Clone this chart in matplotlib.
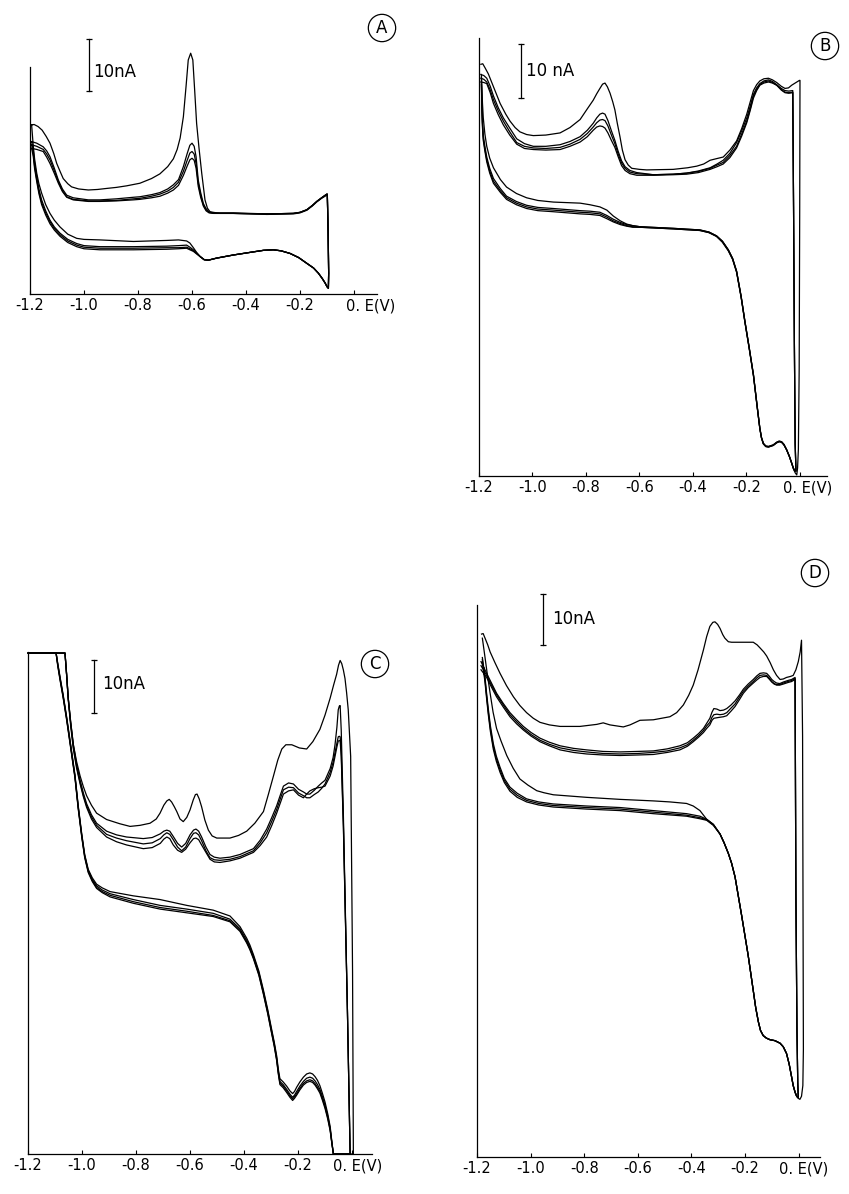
import matplotlib
matplotlib.use('Agg')
import matplotlib.pyplot as plt

W, H = 849, 1194

# E in V, I in nA (zero of I is arbitrary: bottom axis line)
# cycle 1 given as (E, I) pairs, later cycles share one E grid per branch

# ---------------- panel A ----------------
A_up1 = [(-1.194, 32.5), (-1.185, 32.6), (-1.170, 32.2), (-1.155, 31.5), (-1.140, 30.3),
         (-1.126, 29.0), (-1.112, 27.0), (-1.101, 25.1), (-1.088, 23.5), (-1.077, 22.2),
         (-1.060, 21.2), (-1.046, 20.6), (-1.020, 20.2), (-0.984, 20.0), (-0.950, 20.1),
         (-0.916, 20.3), (-0.880, 20.5), (-0.842, 20.8), (-0.793, 21.3), (-0.750, 22.2),
         (-0.719, 23.1), (-0.690, 24.5), (-0.669, 26.0), (-0.655, 27.8), (-0.644, 30.0),
         (-0.632, 34.1), (-0.622, 40.0), (-0.614, 45.0), (-0.605, 46.3), (-0.597, 45.0),
         (-0.590, 39.0), (-0.583, 32.8), (-0.574, 28.0), (-0.564, 23.2), (-0.552, 18.1),
         (-0.543, 16.5), (-0.533, 15.8), (-0.496, 15.5), (-0.447, 15.5), (-0.323, 15.4),
         (-0.225, 15.5), (-0.200, 15.7), (-0.175, 16.2), (-0.155, 17.0), (-0.138, 17.8),
         (-0.120, 18.5), (-0.101, 19.2)]
A_up_E = [-1.194, -1.175, -1.151, -1.138, -1.126, -1.110, -1.095, -1.080, -1.064, -1.040,
          -0.984, -0.941, -0.880, -0.817, -0.793, -0.750, -0.719, -0.690, -0.669, -0.650,
          -0.632, -0.618, -0.608, -0.600, -0.592, -0.585, -0.577, -0.568, -0.558, -0.548,
          -0.537, -0.520, -0.447, -0.323, -0.225, -0.200, -0.175, -0.155, -0.138, -0.120,
          -0.101]
A_up2_I = [29.3, 29.0, 28.3, 27.5, 26.4, 24.2, 21.9, 20.2, 19.0, 18.5,
           18.1, 18.1, 18.3, 18.6, 18.7, 19.1, 19.5, 20.2, 21.0, 22.0,
           24.5, 27.0, 28.6, 29.0, 28.4, 26.4, 21.9, 19.5, 17.4, 16.4,
           15.8, 15.6, 15.6, 15.4, 15.5, 15.7, 16.2, 17.0, 17.8, 18.5,
           19.2]
A_up3_I = [28.7, 28.4, 27.8, 26.9, 25.8, 23.7, 21.6, 19.9, 18.7, 18.2,
           17.9, 17.9, 18.0, 18.3, 18.4, 18.8, 19.2, 19.8, 20.5, 21.5,
           23.6, 25.7, 27.1, 27.4, 26.9, 25.1, 21.3, 19.0, 17.1, 16.2,
           15.7, 15.5, 15.5, 15.4, 15.5, 15.7, 16.2, 17.0, 17.8, 18.5,
           19.2]
A_up4_I = [28.0, 27.8, 27.4, 26.3, 25.1, 23.2, 21.3, 19.7, 18.6, 18.1,
           17.8, 17.8, 17.9, 18.1, 18.2, 18.5, 18.8, 19.4, 20.0, 20.9,
           22.8, 24.6, 25.8, 26.1, 25.7, 24.2, 20.7, 18.6, 16.9, 16.0,
           15.6, 15.5, 15.5, 15.3, 15.4, 15.6, 16.1, 16.9, 17.7, 18.4,
           19.0]
A_dn_E = [-0.099, -0.096, -0.094, -0.095, -0.100, -0.107, -0.118, -0.132, -0.150, -0.175,
          -0.205, -0.237, -0.270, -0.299, -0.335, -0.373, -0.447, -0.509, -0.540, -0.555,
          -0.570, -0.583, -0.595, -0.608, -0.620, -0.650, -0.694, -0.817, -0.941, -1.000,
          -1.027, -1.060, -1.089, -1.110, -1.126, -1.142, -1.157, -1.167, -1.175, -1.183,
          -1.188, -1.194]
A_dn1_I = [19.2, 12.0, 4.0, 1.1, 1.4, 2.1, 3.0, 4.0, 5.0, 5.9,
           7.0, 7.8, 8.3, 8.5, 8.4, 8.1, 7.5, 6.9, 6.5, 6.6,
           7.2, 8.0, 8.9, 9.8, 10.2, 10.4, 10.3, 10.1, 10.4, 10.5,
           10.7, 11.5, 12.9, 14.2, 15.5, 17.2, 19.4, 21.2, 23.2, 26.0,
           28.5, 32.5]
A_dn2_I = [19.2, 12.0, 4.0, 1.1, 1.4, 2.1, 3.0, 4.0, 5.0, 5.9,
           7.0, 7.8, 8.3, 8.5, 8.4, 8.1, 7.5, 6.9, 6.5, 6.6,
           7.2, 7.9, 8.5, 9.0, 9.4, 9.3, 9.2, 9.1, 9.1, 9.3,
           9.7, 10.5, 11.7, 12.9, 14.2, 16.0, 18.1, 20.2, 22.6, 25.2,
           27.7, 29.3]
A_dn3_I = [19.2, 12.0, 4.0, 1.1, 1.4, 2.1, 3.0, 4.0, 5.0, 5.9,
           7.0, 7.8, 8.3, 8.5, 8.4, 8.1, 7.5, 6.9, 6.5, 6.6,
           7.2, 7.8, 8.3, 8.7, 9.0, 8.9, 8.9, 8.8, 8.8, 9.0,
           9.4, 10.2, 11.4, 12.6, 13.9, 15.6, 17.6, 19.7, 22.0, 24.6,
           27.0, 28.7]
A_dn4_I = [19.0, 12.0, 4.0, 1.1, 1.4, 2.1, 3.0, 4.0, 5.0, 5.9,
           7.0, 7.8, 8.3, 8.5, 8.4, 8.1, 7.5, 6.9, 6.5, 6.6,
           7.2, 7.7, 8.2, 8.5, 8.8, 8.7, 8.6, 8.5, 8.5, 8.7,
           9.1, 9.9, 11.1, 12.3, 13.5, 15.2, 17.2, 19.3, 21.6, 24.1,
           26.5, 28.0]

# ---------------- panel B ----------------
B_up1 = [(-1.193, 76.8), (-1.186, 76.9), (-1.178, 76.2), (-1.165, 75.0), (-1.153, 73.5),
         (-1.137, 71.5), (-1.121, 69.5), (-1.100, 67.5), (-1.084, 66.2), (-1.065, 65.0),
         (-1.047, 64.2), (-1.022, 63.7), (-0.997, 63.5), (-0.950, 63.6), (-0.897, 64.0),
         (-0.860, 65.0), (-0.822, 66.5), (-0.795, 68.5), (-0.773, 70.1), (-0.760, 71.3),
         (-0.748, 72.3), (-0.738, 73.1), (-0.729, 73.3), (-0.720, 72.6), (-0.710, 71.4),
         (-0.700, 69.8), (-0.692, 68.3), (-0.683, 65.8), (-0.673, 63.3), (-0.664, 60.8),
         (-0.654, 59.0), (-0.642, 58.0), (-0.629, 57.4), (-0.600, 57.2), (-0.573, 57.1),
         (-0.474, 57.2), (-0.420, 57.5), (-0.386, 57.8), (-0.360, 58.2), (-0.336, 58.9),
         (-0.312, 59.2), (-0.287, 59.5), (-0.262, 60.8), (-0.237, 62.5), (-0.218, 64.8),
         (-0.199, 67.5), (-0.186, 69.8), (-0.174, 71.9), (-0.162, 73.0), (-0.150, 73.7),
         (-0.135, 74.1), (-0.118, 74.2), (-0.103, 73.9), (-0.087, 73.4), (-0.070, 72.7),
         (-0.056, 72.3), (-0.043, 72.4), (-0.031, 72.9), (-0.015, 73.4), (-0.002, 73.8)]
B_dn1 = [(0.000, 73.8), (-0.001, 50.0), (-0.003, 20.0), (-0.006, 5.0), (-0.009, 1.5),
         (-0.012, 0.2), (-0.018, 0.6), (-0.025, 1.4), (-0.031, 2.4), (-0.040, 3.7),
         (-0.050, 4.9), (-0.060, 5.9), (-0.069, 6.4), (-0.078, 6.5), (-0.087, 6.3),
         (-0.100, 5.8), (-0.118, 5.5), (-0.128, 5.6), (-0.137, 6.1), (-0.144, 7.2),
         (-0.150, 8.9), (-0.160, 13.0), (-0.174, 18.9), (-0.190, 24.0), (-0.206, 28.9),
         (-0.220, 33.5), (-0.237, 38.2), (-0.252, 40.6), (-0.268, 42.2), (-0.290, 43.8),
         (-0.312, 44.8), (-0.340, 45.5), (-0.374, 45.9), (-0.474, 46.2), (-0.598, 46.5),
         (-0.625, 46.7), (-0.648, 47.0), (-0.672, 47.6), (-0.698, 48.5), (-0.722, 49.6),
         (-0.748, 50.2), (-0.785, 50.6), (-0.822, 50.9), (-0.922, 51.1), (-0.980, 51.4),
         (-1.022, 51.9), (-1.060, 52.7), (-1.097, 53.9), (-1.120, 55.3), (-1.146, 57.5),
         (-1.160, 59.3), (-1.171, 61.5), (-1.178, 63.8), (-1.184, 66.8), (-1.187, 69.5),
         (-1.189, 72.2), (-1.191, 74.9)]
B_up_E = [-1.193, -1.182, -1.171, -1.158, -1.146, -1.128, -1.109, -1.085, -1.059, -1.030,
          -0.997, -0.950, -0.897, -0.860, -0.822, -0.795, -0.773, -0.760, -0.748, -0.738,
          -0.729, -0.718, -0.705, -0.692, -0.680, -0.667, -0.654, -0.636, -0.610, -0.548,
          -0.474, -0.424, -0.380, -0.336, -0.310, -0.287, -0.262, -0.237, -0.218, -0.199,
          -0.186, -0.174, -0.162, -0.150, -0.135, -0.118, -0.103, -0.087, -0.070, -0.056,
          -0.042, -0.027]
B_up2_I = [74.9, 74.7, 74.2, 72.7, 70.9, 68.7, 66.8, 64.9, 62.9, 62.0,
           61.5, 61.5, 61.8, 62.4, 63.3, 64.5, 65.8, 66.8, 67.5, 67.7,
           67.5, 66.3, 64.4, 62.6, 60.6, 58.8, 57.7, 57.0, 56.6, 56.2,
           56.3, 56.5, 56.9, 57.5, 58.2, 58.9, 60.2, 62.2, 64.4, 66.8,
           69.0, 71.2, 72.4, 73.2, 73.7, 73.9, 73.6, 73.0, 72.3, 71.9,
           71.8, 71.9]
B_up3_I = [74.2, 74.0, 73.5, 72.0, 70.2, 68.1, 66.2, 64.2, 62.2, 61.5,
           61.2, 61.1, 61.3, 61.9, 62.8, 63.9, 65.1, 65.9, 66.4, 66.5,
           66.3, 65.3, 63.6, 62.0, 60.1, 58.4, 57.4, 56.7, 56.4, 56.2,
           56.3, 56.5, 56.8, 57.4, 58.0, 58.5, 59.8, 61.5, 63.8, 66.2,
           68.5, 70.9, 72.1, 73.0, 73.5, 73.7, 73.4, 72.9, 72.1, 71.6,
           71.5, 71.6]
B_up4_I = [73.5, 73.4, 73.2, 71.5, 69.5, 67.4, 65.5, 63.6, 61.9, 61.1,
           60.9, 60.8, 60.9, 61.5, 62.3, 63.3, 64.5, 65.1, 65.3, 65.2,
           64.9, 64.0, 62.6, 61.3, 59.6, 57.9, 57.0, 56.4, 56.1, 56.1,
           56.2, 56.3, 56.6, 57.2, 57.7, 58.2, 59.4, 61.2, 63.4, 65.9,
           68.2, 70.5, 71.9, 72.9, 73.3, 73.5, 73.3, 72.9, 72.0, 71.5,
           71.4, 71.5]
B_dn_E = [-0.027, -0.024, -0.021, -0.018, -0.015, -0.020, -0.025, -0.031, -0.040, -0.050,
          -0.060, -0.069, -0.078, -0.087, -0.100, -0.118, -0.128, -0.137, -0.144, -0.150,
          -0.160, -0.174, -0.190, -0.206, -0.220, -0.237, -0.252, -0.268, -0.290, -0.312,
          -0.340, -0.374, -0.474, -0.598, -0.625, -0.648, -0.672, -0.698, -0.722, -0.748,
          -0.785, -0.822, -0.922, -0.980, -1.022, -1.060, -1.097, -1.120, -1.146, -1.160,
          -1.171, -1.178, -1.184, -1.187, -1.189, -1.191]
B_dn2_I = [71.9, 50.0, 25.0, 6.0, 0.9, 1.0, 1.5, 2.4, 3.7, 4.9,
           5.9, 6.4, 6.5, 6.3, 5.8, 5.5, 5.6, 6.1, 7.2, 8.9,
           13.0, 18.9, 24.0, 28.9, 33.5, 38.2, 40.6, 42.2, 43.8, 44.8,
           45.5, 45.9, 46.2, 46.5, 46.7, 46.9, 47.3, 47.9, 48.6, 49.2,
           49.4, 49.5, 49.9, 50.1, 50.5, 51.2, 52.2, 53.6, 55.5, 57.4,
           59.5, 61.5, 63.5, 66.0, 68.9, 74.2]
B_dn3_I = [71.6, 50.0, 25.0, 6.0, 0.9, 1.0, 1.5, 2.4, 3.7, 4.9,
           5.8, 6.3, 6.4, 6.2, 5.7, 5.4, 5.5, 6.0, 7.1, 8.8,
           12.9, 18.8, 23.9, 28.8, 33.4, 38.1, 40.5, 42.1, 43.7, 44.7,
           45.4, 45.8, 46.1, 46.4, 46.5, 46.7, 47.1, 47.6, 48.3, 48.9,
           49.1, 49.2, 49.6, 49.8, 50.2, 50.9, 51.9, 53.2, 55.0, 56.9,
           59.0, 61.0, 63.0, 65.5, 68.5, 73.5]
B_dn4_I = [71.5, 50.0, 25.0, 6.0, 0.9, 1.0, 1.5, 2.4, 3.7, 4.9,
           5.8, 6.3, 6.4, 6.2, 5.7, 5.4, 5.5, 6.0, 7.1, 8.8,
           12.8, 18.7, 23.8, 28.7, 33.3, 38.0, 40.4, 42.0, 43.6, 44.7,
           45.4, 45.8, 46.1, 46.4, 46.4, 46.6, 46.9, 47.4, 48.0, 48.6,
           48.8, 48.9, 49.3, 49.5, 49.9, 50.6, 51.6, 52.9, 54.6, 56.5,
           58.6, 60.6, 62.6, 65.0, 68.0, 73.0]

# ---------------- panel C (pen runs off scale at top and bottom) ----------------
C_up1 = [(-1.199, 94.5), (-1.063, 94.5), (-1.057, 90.5), (-1.051, 86.0), (-1.042, 81.5),
         (-1.032, 77.2), (-1.020, 74.0), (-1.007, 71.3), (-0.995, 69.3), (-0.983, 67.6),
         (-0.965, 65.8), (-0.946, 64.3), (-0.909, 63.1), (-0.860, 62.3), (-0.822, 61.8),
         (-0.785, 62.0), (-0.748, 62.4), (-0.725, 63.2), (-0.711, 64.3), (-0.697, 65.8),
         (-0.686, 66.6), (-0.677, 66.9), (-0.668, 66.4), (-0.658, 65.5), (-0.649, 64.6),
         (-0.637, 63.2), (-0.625, 62.7), (-0.612, 63.5), (-0.600, 64.9), (-0.588, 66.8),
         (-0.580, 67.8), (-0.574, 67.9), (-0.566, 67.0), (-0.557, 65.5), (-0.545, 63.0),
         (-0.532, 61.1), (-0.518, 60.0), (-0.501, 59.6), (-0.452, 59.6), (-0.420, 60.1),
         (-0.390, 60.9), (-0.360, 62.4), (-0.328, 64.6), (-0.310, 67.8), (-0.291, 71.3),
         (-0.275, 74.3), (-0.260, 76.4), (-0.245, 77.2), (-0.223, 77.2), (-0.195, 76.6),
         (-0.168, 76.4), (-0.145, 77.8), (-0.119, 80.1), (-0.100, 82.8), (-0.081, 86.0),
         (-0.068, 88.5), (-0.057, 90.5), (-0.050, 92.2), (-0.044, 93.1), (-0.038, 92.5),
         (-0.032, 91.3), (-0.026, 89.7), (-0.020, 87.0), (-0.014, 83.8), (-0.005, 75.0),
         (0.002, 34.3), (0.005, 0.0)]
C_up_E = [-1.199, -1.063, -1.057, -1.051, -1.042, -1.032, -1.020, -1.007, -0.995, -0.983,
          -0.965, -0.946, -0.909, -0.872, -0.835, -0.773, -0.740, -0.710, -0.697, -0.686,
          -0.675, -0.662, -0.646, -0.631, -0.616, -0.600, -0.587, -0.578, -0.568, -0.557,
          -0.541, -0.526, -0.510, -0.489, -0.452, -0.415, -0.365, -0.340, -0.316, -0.297,
          -0.279, -0.265, -0.254, -0.235, -0.217, -0.198, -0.180, -0.168, -0.156, -0.140,
          -0.125, -0.112, -0.100, -0.081, -0.070, -0.063, -0.056, -0.051, -0.047, -0.044,
          -0.040, -0.032, -0.017, -0.007]
C_up2_I = [94.5, 94.5, 90.5, 86.0, 81.5, 77.2, 73.5, 70.5, 68.1, 66.1,
           64.0, 62.4, 60.9, 60.2, 59.8, 59.5, 59.7, 60.4, 60.9, 61.1,
           60.9, 59.9, 58.6, 57.9, 58.6, 60.2, 61.1, 61.3, 60.9, 59.8,
           57.9, 56.5, 56.0, 55.8, 56.0, 56.5, 57.6, 59.2, 61.3, 63.5,
           65.7, 67.8, 69.4, 70.0, 69.8, 68.8, 68.3, 67.9, 67.9, 68.6,
           69.4, 70.0, 70.5, 72.7, 74.8, 77.2, 80.5, 83.8, 84.5, 84.6,
           80.0, 63.9, 27.0, 0.0]
C_up3_I = [94.5, 94.5, 90.5, 86.0, 81.2, 76.8, 73.1, 70.1, 67.7, 65.7,
           63.6, 62.0, 60.3, 59.6, 59.1, 58.5, 58.7, 59.5, 60.2, 60.6,
           60.3, 59.3, 57.9, 57.2, 57.9, 59.5, 60.5, 60.6, 60.2, 59.1,
           57.2, 55.9, 55.5, 55.4, 55.6, 56.1, 57.2, 58.7, 60.6, 62.8,
           65.0, 67.1, 68.7, 69.2, 69.1, 68.1, 67.6, 67.2, 67.2, 67.8,
           68.3, 69.0, 69.8, 72.0, 73.9, 75.7, 77.5, 78.7, 78.8, 78.7,
           76.0, 62.4, 27.0, 0.0]
C_up4_I = [94.5, 94.5, 90.3, 85.7, 80.8, 76.4, 72.8, 69.8, 67.4, 65.4,
           63.2, 61.6, 59.8, 58.9, 58.3, 57.6, 57.8, 58.6, 59.4, 59.8,
           59.5, 58.3, 57.3, 56.9, 57.5, 58.7, 59.5, 59.6, 59.3, 58.3,
           56.9, 55.6, 55.1, 55.0, 55.3, 55.8, 56.9, 58.2, 59.8, 62.0,
           64.3, 66.3, 67.9, 68.5, 68.7, 67.7, 67.2, 67.9, 68.5, 68.9,
           69.1, 69.2, 69.4, 71.3, 73.2, 75.0, 76.8, 77.9, 78.0, 77.9,
           75.0, 61.7, 27.0, 0.0]
C_dn_E = [-0.007, -0.069, -0.075, -0.081, -0.090, -0.100, -0.110, -0.119, -0.128, -0.137,
          -0.146, -0.156, -0.168, -0.180, -0.193, -0.205, -0.213, -0.220, -0.230, -0.242,
          -0.255, -0.267, -0.273, -0.279, -0.288, -0.298, -0.312, -0.328, -0.345, -0.365,
          -0.378, -0.390, -0.415, -0.452, -0.514, -0.612, -0.711, -0.810, -0.896, -0.925,
          -0.946, -0.962, -0.977, -0.990, -1.001, -1.014, -1.026, -1.042, -1.057, -1.070,
          -1.081, -1.090, -1.096, -1.199]
C_dn1_I = [0.0, 0.0, 2.5, 5.2, 7.6, 9.8, 11.5, 12.9, 13.9, 14.6,
           15.1, 15.3, 15.1, 14.5, 13.6, 12.6, 11.8, 11.4, 11.9, 12.8,
           13.6, 14.2, 16.0, 18.5, 21.1, 23.6, 27.2, 30.9, 34.5, 37.6,
           39.4, 40.7, 42.9, 44.9, 46.0, 46.9, 48.0, 48.7, 49.5, 50.2,
           50.9, 52.1, 53.7, 56.5, 60.4, 65.7, 71.5, 77.2, 82.5, 86.7,
           89.9, 92.6, 94.5, 94.5]
C_dn2_I = [0.0, 0.0, 2.3, 4.8, 7.2, 9.2, 10.9, 12.2, 13.1, 13.8,
           14.3, 14.5, 14.3, 13.7, 12.8, 11.8, 11.1, 10.7, 11.3, 12.2,
           13.1, 13.7, 15.6, 18.1, 20.8, 23.3, 26.9, 30.6, 34.2, 37.3,
           39.0, 40.3, 42.5, 44.3, 45.4, 46.2, 46.9, 48.0, 49.1, 49.8,
           50.6, 51.8, 53.5, 56.3, 60.2, 65.5, 71.3, 77.0, 82.3, 86.5,
           89.7, 92.5, 94.5, 94.5]
C_dn3_I = [0.0, 0.0, 2.2, 4.6, 6.9, 8.9, 10.5, 11.8, 12.6, 13.3,
           13.8, 14.0, 13.8, 13.3, 12.4, 11.4, 10.8, 10.4, 11.0, 11.9,
           12.8, 13.4, 15.3, 17.8, 20.5, 23.0, 26.6, 30.3, 33.9, 37.0,
           38.7, 40.0, 42.2, 44.0, 45.0, 45.8, 46.5, 47.6, 48.8, 49.5,
           50.3, 51.6, 53.3, 56.1, 60.0, 65.3, 71.1, 76.8, 82.1, 86.3,
           89.5, 92.3, 94.5, 94.5]
C_dn4_I = [0.0, 0.0, 2.1, 4.4, 6.6, 8.6, 10.2, 11.5, 12.3, 13.0,
           13.5, 13.7, 13.5, 13.0, 12.1, 11.1, 10.5, 10.1, 10.7, 11.6,
           12.5, 13.1, 15.1, 17.6, 20.3, 22.8, 26.4, 30.1, 33.7, 36.8,
           38.5, 39.8, 42.0, 43.8, 44.8, 45.5, 46.2, 47.3, 48.5, 49.3,
           50.1, 51.4, 53.1, 55.9, 59.8, 65.1, 70.9, 76.6, 81.9, 86.1,
           89.3, 92.1, 94.5, 94.5]

# ---------------- panel D ----------------
D_up1 = [(-1.183, 102.5), (-1.177, 102.6), (-1.170, 101.7), (-1.160, 100.4), (-1.151, 99.0),
         (-1.133, 96.9), (-1.114, 94.8), (-1.090, 92.4), (-1.064, 90.2), (-1.040, 88.5),
         (-1.015, 87.1), (-0.990, 86.0), (-0.965, 85.2), (-0.930, 84.7), (-0.890, 84.4),
         (-0.816, 84.4), (-0.753, 84.8), (-0.729, 85.1), (-0.704, 84.7), (-0.654, 84.3),
         (-0.629, 84.7), (-0.592, 85.6), (-0.542, 85.7), (-0.480, 86.3), (-0.455, 87.1),
         (-0.430, 88.6), (-0.410, 90.5), (-0.393, 92.5), (-0.375, 95.5), (-0.355, 99.4),
         (-0.343, 102.0), (-0.331, 104.0), (-0.320, 104.8), (-0.312, 104.9), (-0.302, 104.4),
         (-0.293, 103.6), (-0.283, 102.4), (-0.275, 101.7), (-0.262, 101.0), (-0.250, 100.9),
         (-0.210, 100.9), (-0.169, 100.9), (-0.155, 100.4), (-0.144, 99.8), (-0.130, 99.0),
         (-0.119, 98.2), (-0.106, 96.9), (-0.094, 95.5), (-0.082, 94.4), (-0.069, 93.6),
         (-0.057, 93.7), (-0.045, 94.0), (-0.030, 94.2), (-0.020, 94.4), (-0.010, 95.5),
         (-0.001, 97.1), (0.006, 99.0), (0.011, 101.3)]
D_dn1 = [(0.015, 82.5), (0.018, 21.1), (0.016, 14.0), (0.011, 11.9), (0.005, 11.3),
         (-0.001, 11.5), (-0.007, 11.9), (-0.013, 12.7), (-0.020, 14.0), (-0.026, 15.7),
         (-0.035, 18.2), (-0.045, 20.3), (-0.057, 21.6), (-0.069, 22.3), (-0.088, 22.8),
         (-0.107, 23.0), (-0.120, 23.3), (-0.132, 23.8), (-0.142, 24.8), (-0.150, 26.5),
         (-0.160, 29.3), (-0.169, 32.6), (-0.188, 39.5), (-0.212, 47.2), (-0.237, 54.9),
         (-0.250, 57.6), (-0.262, 59.5), (-0.278, 61.6), (-0.293, 63.3), (-0.318, 65.2),
         (-0.343, 66.2), (-0.368, 67.9), (-0.393, 68.8), (-0.418, 69.3), (-0.480, 69.6),
         (-0.542, 69.8), (-0.666, 70.1), (-0.791, 70.5), (-0.915, 71.0), (-0.950, 71.4),
         (-0.977, 71.8), (-1.010, 72.9), (-1.040, 74.1), (-1.065, 76.2), (-1.089, 78.7),
         (-1.110, 81.5), (-1.127, 84.0), (-1.140, 87.2), (-1.151, 90.9), (-1.162, 94.8),
         (-1.170, 97.9), (-1.180, 101.7)]
D_up_E = [-1.185, -1.175, -1.164, -1.146, -1.127, -1.102, -1.077, -1.052, -1.027, -0.998,
          -0.965, -0.930, -0.890, -0.840, -0.791, -0.730, -0.666, -0.600, -0.542, -0.490,
          -0.443, -0.415, -0.393, -0.373, -0.355, -0.343, -0.331, -0.323, -0.316, -0.305,
          -0.293, -0.280, -0.268, -0.252, -0.237, -0.220, -0.206, -0.188, -0.169, -0.156,
          -0.144, -0.131, -0.119, -0.110, -0.100, -0.091, -0.082, -0.070, -0.057, -0.040,
          -0.026, -0.013]
D_up2_I = [97.1, 96.0, 94.8, 92.9, 90.9, 88.9, 87.1, 85.7, 84.4, 83.2,
           82.1, 81.3, 80.6, 80.1, 79.8, 79.5, 79.4, 79.5, 79.6, 80.0,
           80.6, 81.2, 82.1, 83.0, 84.0, 85.0, 86.0, 87.2, 87.9, 87.8,
           87.5, 87.6, 87.9, 88.6, 89.4, 90.6, 91.7, 92.7, 93.6, 94.3,
           94.8, 94.9, 94.8, 94.3, 93.6, 93.2, 92.9, 92.8, 93.1, 93.4,
           93.6, 94.0]
D_up3_I = [96.3, 95.4, 94.4, 92.5, 90.6, 88.6, 86.7, 85.3, 84.0, 82.8,
           81.7, 80.9, 80.2, 79.7, 79.4, 79.1, 79.0, 79.1, 79.3, 79.6,
           80.2, 80.8, 81.7, 82.6, 83.6, 84.5, 85.2, 86.2, 86.7, 86.8,
           86.7, 86.8, 87.1, 88.0, 88.8, 90.2, 91.3, 92.3, 93.2, 93.9,
           94.4, 94.5, 94.4, 93.9, 93.2, 92.8, 92.6, 92.6, 92.9, 93.2,
           93.4, 93.8]
D_up4_I = [95.5, 94.8, 94.0, 92.1, 90.2, 88.2, 86.3, 84.9, 83.7, 82.5,
           81.4, 80.6, 79.8, 79.3, 79.0, 78.8, 78.7, 78.8, 78.9, 79.3,
           79.8, 80.5, 81.4, 82.3, 83.2, 84.0, 84.7, 85.6, 86.0, 86.1,
           86.2, 86.3, 86.5, 87.4, 88.3, 89.7, 90.9, 92.0, 92.9, 93.5,
           94.0, 94.2, 94.2, 93.7, 93.1, 92.7, 92.5, 92.5, 92.7, 93.0,
           93.2, 93.6]
D_dn_E = [-0.013, -0.010, -0.006, -0.003, -0.001, -0.007, -0.013, -0.020, -0.026, -0.035,
          -0.045, -0.057, -0.069, -0.088, -0.107, -0.120, -0.132, -0.142, -0.150, -0.160,
          -0.169, -0.188, -0.212, -0.237, -0.250, -0.262, -0.278, -0.293, -0.318, -0.343,
          -0.368, -0.418, -0.542, -0.666, -0.791, -0.915, -0.970, -1.015, -1.050, -1.077,
          -1.098, -1.114, -1.128, -1.139, -1.150, -1.158, -1.165, -1.170, -1.180]
D_dn2_I = [94.0, 51.8, 25.0, 14.5, 11.6, 11.9, 12.7, 14.0, 15.7, 18.2,
           20.3, 21.6, 22.3, 22.8, 23.0, 23.3, 23.8, 24.8, 26.5, 29.3,
           32.6, 39.5, 47.2, 54.9, 57.6, 59.5, 61.6, 63.3, 65.2, 66.2,
           66.8, 67.3, 67.9, 68.5, 68.8, 69.2, 69.6, 70.2, 71.3, 72.5,
           74.2, 76.4, 78.6, 81.0, 84.5, 87.9, 91.3, 94.0, 97.9]
D_dn3_I = [93.8, 51.8, 25.0, 14.5, 11.6, 11.9, 12.7, 14.0, 15.7, 18.2,
           20.3, 21.6, 22.3, 22.8, 23.0, 23.3, 23.8, 24.8, 26.5, 29.3,
           32.6, 39.5, 47.2, 54.9, 57.6, 59.5, 61.6, 63.3, 65.1, 66.1,
           66.5, 67.0, 67.6, 68.2, 68.5, 68.9, 69.3, 69.9, 70.9, 72.1,
           73.8, 75.9, 78.1, 80.4, 83.9, 87.3, 90.8, 93.5, 97.5]
D_dn4_I = [93.6, 51.8, 25.0, 14.5, 11.6, 11.9, 12.7, 14.0, 15.7, 18.2,
           20.3, 21.6, 22.3, 22.8, 23.0, 23.3, 23.8, 24.8, 26.5, 29.3,
           32.6, 39.5, 47.2, 54.9, 57.6, 59.5, 61.6, 63.3, 65.0, 66.0,
           66.3, 66.8, 67.3, 67.9, 68.2, 68.6, 69.0, 69.6, 70.5, 71.7,
           73.4, 75.4, 77.6, 79.9, 83.4, 86.8, 90.3, 93.0, 97.1]

tick_E = [-1.2, -1.0, -0.8, -0.6, -0.4, -0.2, 0.0]
tick_lab = ['-1.2', '-1.0', '-0.8', '-0.6', '-0.4', '-0.2', '']


def split(pairs):
    return [p[0] for p in pairs], [p[1] for p in pairs]


A_up1_E, A_up1_I = split(A_up1)
B_up1_E, B_up1_I = split(B_up1)
B_dn1_E, B_dn1_I = split(B_dn1)
C_up1_E, C_up1_I = split(C_up1)
D_up1_E, D_up1_I = split(D_up1)
D_dn1_E, D_dn1_I = split(D_dn1)

# layout: pixel box (left, top, right, bottom) of the L-shaped axes, limits, scale bar, letter
panels = [
    dict(letter='A', box=(30, 67, 377, 294), xmax=0.085, ymax=43.65,
         cycles=[(A_up1_E, A_up1_I, A_dn_E, A_dn1_I), (A_up_E, A_up2_I, A_dn_E, A_dn2_I),
                 (A_up_E, A_up3_I, A_dn_E, A_dn3_I), (A_up_E, A_up4_I, A_dn_E, A_dn4_I)],
         bar=(-0.981, 39.0), bar_txt='10nA', txt=(-0.967, 42.7), letter_px=(382, 28), zshift=-6),
    dict(letter='B', box=(479, 37.5, 827, 476), xmax=0.101, ymax=81.8,
         cycles=[(B_up1_E, B_up1_I, B_dn1_E, B_dn1_I), (B_up_E, B_up2_I, B_dn_E, B_dn2_I),
                 (B_up_E, B_up3_I, B_dn_E, B_dn3_I), (B_up_E, B_up4_I, B_dn_E, B_dn4_I)],
         bar=(-1.043, 70.5), bar_txt='10 nA', txt=(-1.024, 75.6), letter_px=(825, 46), zshift=-12),
    dict(letter='C', box=(28, 652, 372, 1154), xmax=0.074, ymax=94.7,
         cycles=[(C_up1_E, C_up1_I, C_dn_E, C_dn1_I), (C_up_E, C_up2_I, C_dn_E, C_dn2_I),
                 (C_up_E, C_up3_I, C_dn_E, C_dn3_I), (C_up_E, C_up4_I, C_dn_E, C_dn4_I)],
         bar=(-0.956, 83.2), bar_txt='10nA', txt=(-0.926, 88.7), letter_px=(375, 664), zshift=-14),
    dict(letter='D', box=(477, 605, 820, 1157), xmax=0.080, ymax=108.2,
         cycles=[(D_up1_E, D_up1_I, D_dn1_E, D_dn1_I), (D_up_E, D_up2_I, D_dn_E, D_dn2_I),
                 (D_up_E, D_up3_I, D_dn_E, D_dn3_I), (D_up_E, D_up4_I, D_dn_E, D_dn4_I)],
         bar=(-0.954, 100.4), bar_txt='10nA', txt=(-0.920, 105.5), letter_px=(815, 573), zshift=-14),
]

fig = plt.figure(figsize=(W / 100, H / 100), dpi=100)

for p in panels:
    l, t, r, b = p['box']
    ax = fig.add_axes([l / W, 1 - b / H, (r - l) / W, (b - t) / H])
    ax.set_xlim(-1.2, p['xmax'])
    ax.set_ylim(0, p['ymax'])
    ax.patch.set_visible(False)
    for s in ['top', 'right']:
        ax.spines[s].set_visible(False)
    for s in ['left', 'bottom']:
        ax.spines[s].set_linewidth(0.9)
    ax.set_yticks([])
    ax.set_xticks(tick_E)
    ax.set_xticklabels(tick_lab)
    ax.tick_params(axis='x', direction='in', length=3, width=0.8, labelsize=10.5, pad=3)

    for upE, upI, dnE, dnI in p['cycles']:
        ax.plot(upE + dnE, upI + dnI, color='black', lw=0.9, clip_on=False,
                solid_joinstyle='round')

    ax.annotate('0. E(V)', xy=(0, 0), xycoords=('data', 'axes fraction'),
                xytext=(p['zshift'], -3), textcoords='offset points',
                ha='left', va='top', fontsize=10.5)

    # 10 nA scale bar
    bx, by = p['bar']
    ax.plot([bx, bx], [by, by + 10], color='black', lw=0.9, clip_on=False)
    ax.plot([bx, bx], [by, by + 10], ls='none', marker='_', ms=4, mew=0.9,
            color='black', clip_on=False)
    ax.text(p['txt'][0], p['txt'][1], p['bar_txt'], fontsize=12, ha='left', va='center')

    lx, ly = p['letter_px']
    fig.text(lx / W, 1 - ly / H, p['letter'], ha='center', va='center', fontsize=12,
             bbox=dict(boxstyle='circle,pad=0.28', fc='none', ec='black', lw=0.9))

fig.savefig('out.png', dpi=100)
